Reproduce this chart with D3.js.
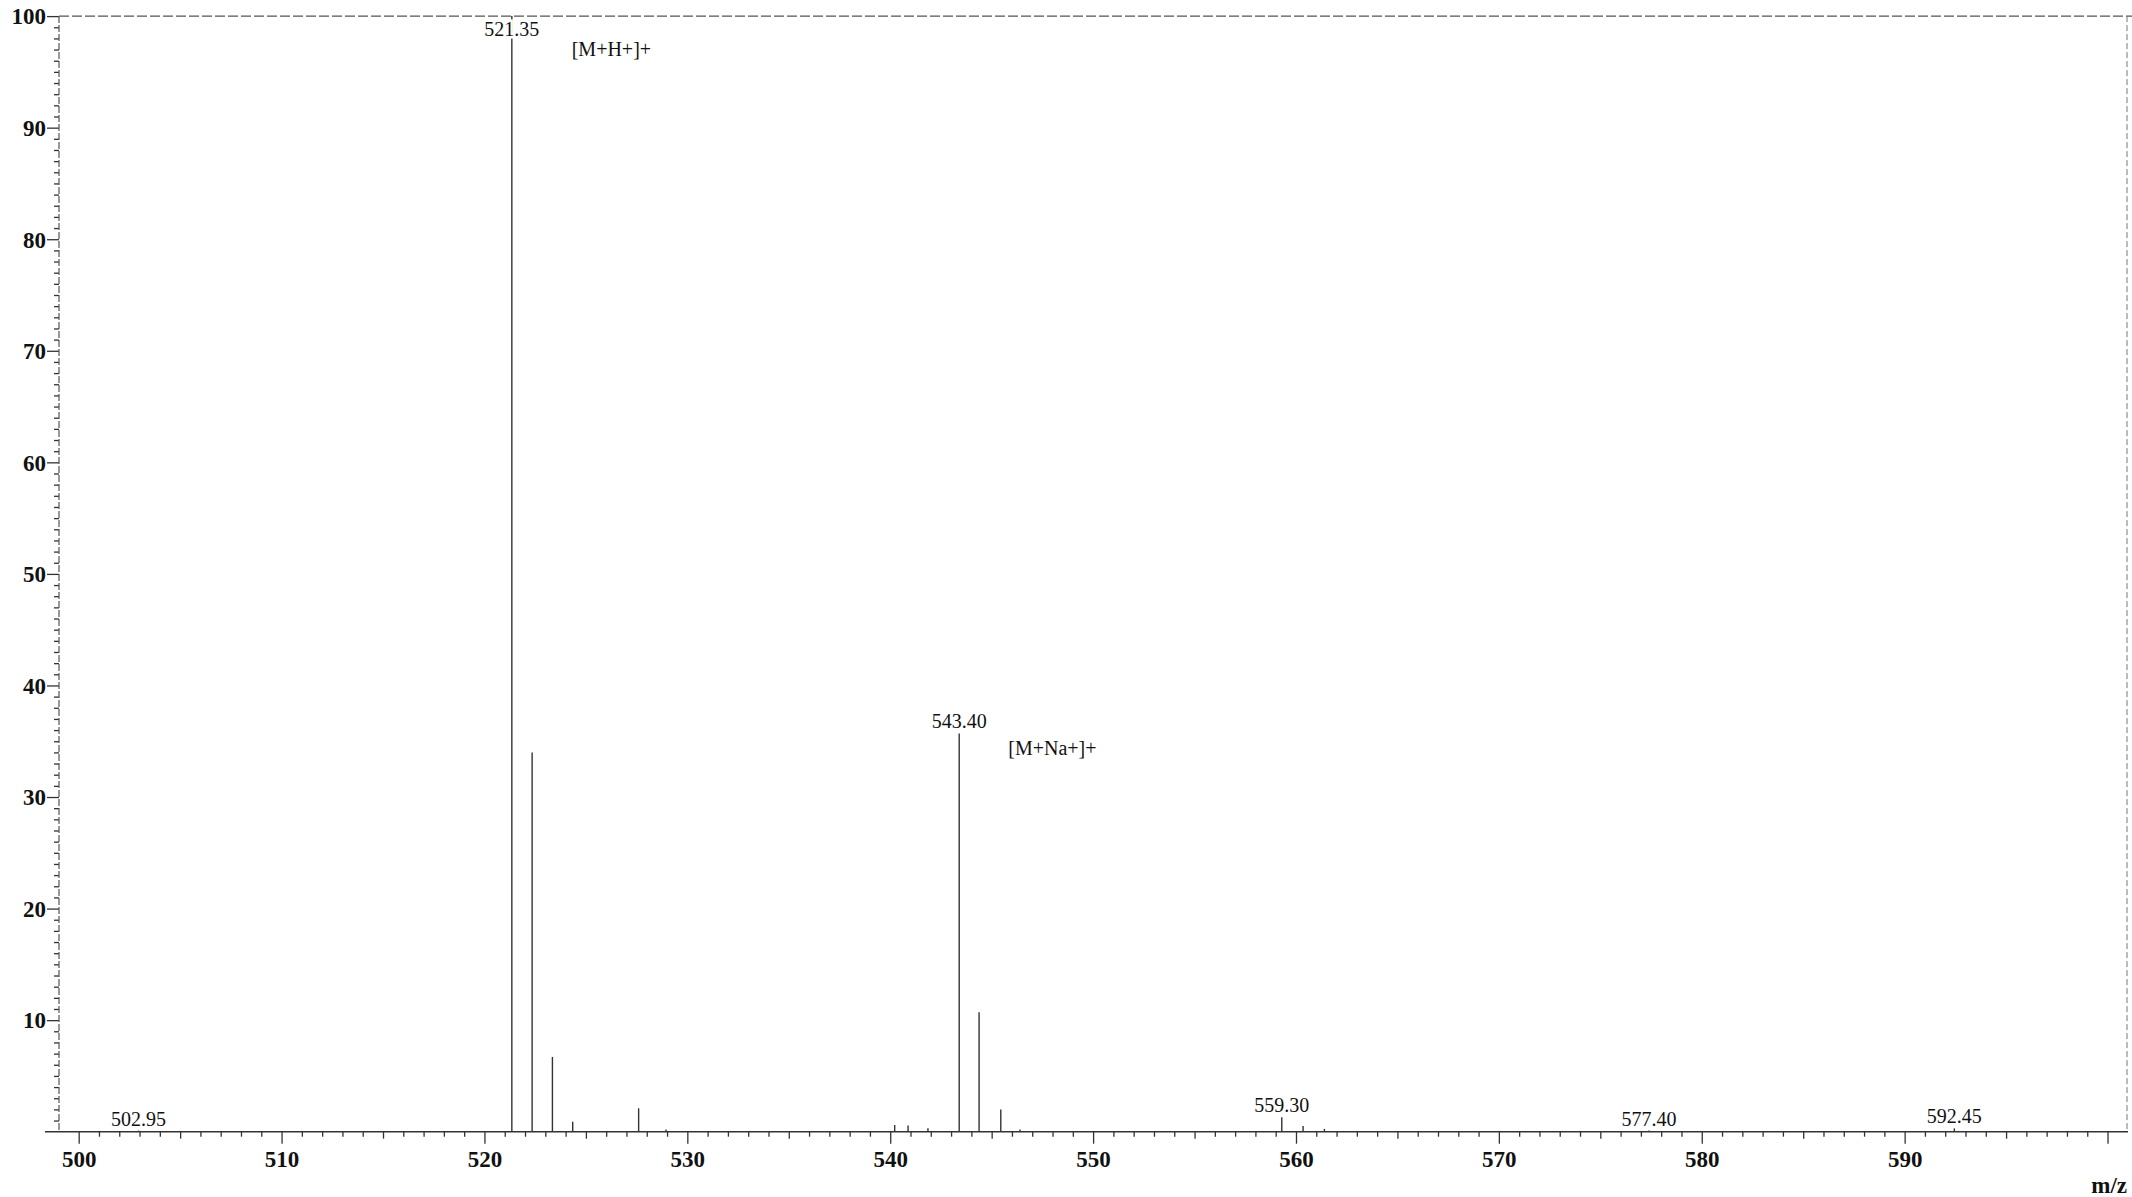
<!DOCTYPE html>
<html>
<head>
<meta charset="utf-8">
<script src="https://cdn.jsdelivr.net/npm/d3@7"></script>
<style>
  body { margin: 0; background: #fff; }
  svg { display: block; font-family: "Liberation Serif", "Times New Roman", serif; }
  .tick text { font-family: "Liberation Serif", "Times New Roman", serif; font-weight: bold; font-size: 23px; fill: #111; }
  .tick line { stroke: #333; stroke-width: 1.3; }
  .peak { stroke: #333; stroke-width: 1.4; }
  .pLabel { font-size: 20px; fill: #111; text-anchor: middle; paint-order: stroke; stroke: #fff; stroke-width: 5px; }
  .note { font-size: 20px; fill: #111; }
</style>
</head>
<body>
<div id="chart"></div>
<script>
// spectrum peaks (m/z, relative intensity %)
const peakMz  = [502.95, 521.35, 522.35, 523.35, 524.35, 527.60, 528.95, 540.22, 540.88, 541.86, 543.40, 544.38, 545.45, 546.40, 559.30, 560.35, 561.40, 577.40, 592.45];
const peakInt = [0.1,    100,    34.0,   6.7,    0.9,    2.1,    0.2,    0.6,    0.55,   0.3,    35.7,   10.7,   2.0,    0.2,    1.3,    0.5,    0.25,   0.1,    0.3];

// peaks that carry an m/z label
const labelMz = [502.95, 521.35, 543.40, 559.30, 577.40, 592.45];

// ion annotations, anchored in data coords (m/z, intensity)
const noteText = ["[M+H+]+", "[M+Na+]+"];
const noteMz   = [524.30, 545.82];
const noteInt  = [96.4, 33.8];

const xTicks = d3.range(500, 601, 10);
const yTicks = d3.range(10, 101, 10);

const svgWidth = 2132, svgHeight = 1197;

const svg = d3.select("#chart")
  .append("svg")
  .attr("width", svgWidth)
  .attr("height", svgHeight);

// scales
const x = d3.scaleLinear().domain([499.03, 600.96]).range([59, 2127]);
const y = d3.scaleLinear().domain([0, 100]).range([1131.7, 16.1]);

// frame (top + right), scanned look
svg.append("line")
  .attr("x1", 59).attr("x2", svgWidth).attr("y1", y(100)).attr("y2", y(100))
  .attr("stroke", "#555").attr("stroke-width", 1.3).attr("stroke-dasharray", "10 3");
svg.append("line")
  .attr("x1", x.range()[1]).attr("x2", x.range()[1]).attr("y1", y(100)).attr("y2", y(0))
  .attr("stroke", "#777").attr("stroke-width", 1).attr("stroke-dasharray", "6 3");

// x axis: minor, mid, major ticks
svg.append("g").attr("transform", `translate(0, ${y(0)})`)
  .call(d3.axisBottom(x).tickValues(d3.range(500, 601, 1).filter(d => d % 5 !== 0)).tickSize(5).tickSizeOuter(0).tickFormat(""));
svg.append("g").attr("transform", `translate(0, ${y(0)})`)
  .call(d3.axisBottom(x).tickValues(d3.range(505, 600, 10)).tickSize(7).tickSizeOuter(0).tickFormat(""));
const xMajor = svg.append("g").attr("transform", `translate(0, ${y(0)})`)
  .call(d3.axisBottom(x).tickValues(xTicks).tickSize(12).tickSizeOuter(0)
    .tickFormat(d => d === 600 ? "" : d));
xMajor.selectAll("text").attr("y", 35.5).attr("dy", null);

// y axis
svg.append("g").attr("transform", `translate(${x.range()[0]}, 0)`)
  .call(d3.axisLeft(y).tickValues(d3.range(1, 100, 1).filter(d => d % 10 !== 0)).tickSize(5).tickSizeOuter(0).tickFormat(""));
const yMajor = svg.append("g").attr("transform", `translate(${x.range()[0]}, 0)`)
  .call(d3.axisLeft(y).tickValues(yTicks).tickSize(12).tickPadding(1).tickSizeOuter(0));
yMajor.selectAll("text").attr("dy", "0.34em");

svg.selectAll(".domain").remove();

// axis lines
svg.append("line")
  .attr("x1", 45).attr("x2", 2128).attr("y1", y(0)).attr("y2", y(0))
  .attr("stroke", "#333").attr("stroke-width", 1.6);
svg.append("line")
  .attr("x1", x.range()[0]).attr("x2", x.range()[0]).attr("y1", y(100)).attr("y2", y(0))
  .attr("stroke", "#555").attr("stroke-width", 1.2).attr("stroke-dasharray", "7 2");

// peaks
const peaks = peakMz.map((m, i) => ({mz: m, v: peakInt[i]}));
svg.append("g").selectAll("line")
  .data(peaks)
  .enter()
  .append("line")
  .attr("class", "peak")
  .attr("x1", d => x(d.mz)).attr("x2", d => x(d.mz))
  .attr("y1", y(0)).attr("y2", d => y(d.v));

// peak labels
svg.append("g").selectAll("text")
  .data(peaks.filter(d => labelMz.includes(d.mz)))
  .enter()
  .append("text")
  .attr("class", "pLabel")
  .attr("x", d => x(d.mz))
  .attr("y", d => Math.max(y(d.v) - 5, 36))
  .text(d => d.mz.toFixed(2));

// ion notes
svg.append("g").selectAll("text")
  .data(noteText)
  .enter()
  .append("text")
  .attr("class", "note")
  .attr("x", (d, i) => x(noteMz[i]))
  .attr("y", (d, i) => y(noteInt[i]))
  .text(d => d);

// axis title
svg.append("text")
  .attr("x", 2127).attr("y", 1193)
  .attr("text-anchor", "end")
  .attr("font-weight", "bold")
  .attr("font-size", 23)
  .attr("fill", "#111")
  .text("m/z");
</script>
</body>
</html>
